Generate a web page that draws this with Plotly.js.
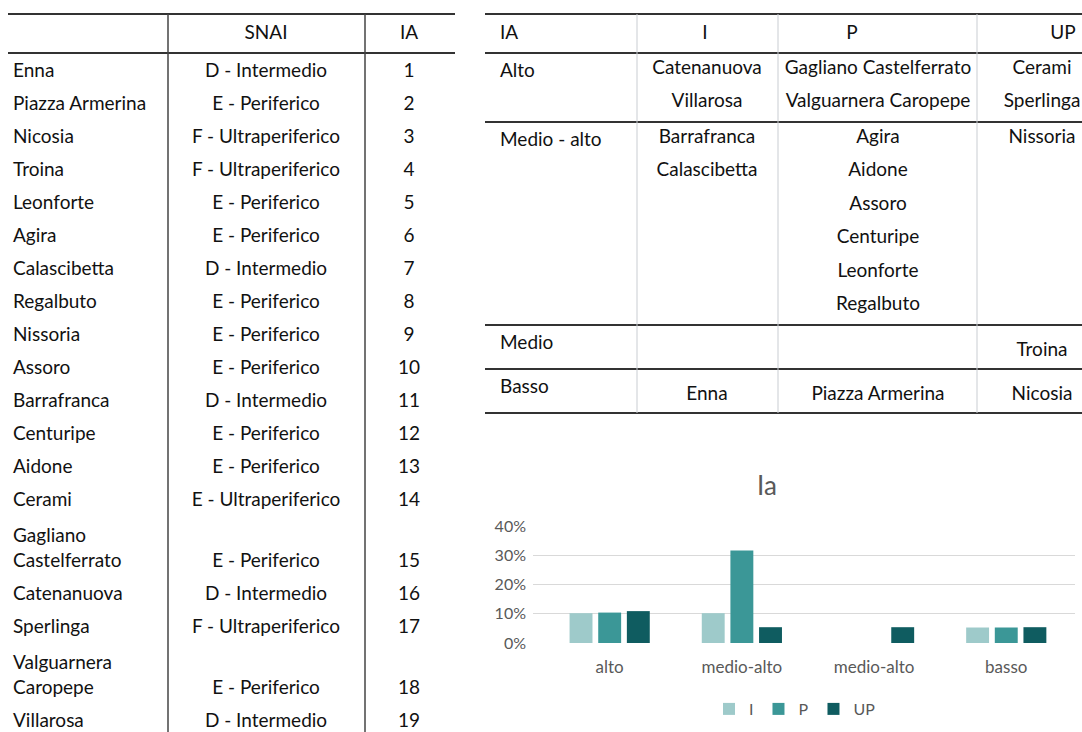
<!DOCTYPE html>
<html><head><meta charset="utf-8">
<script src="https://cdn.plot.ly/plotly-3.0.1.min.js"></script>
<style>html,body{margin:0;padding:0;background:#fff}#chart{width:1082px;height:732px}</style>
</head><body><div id="chart"></div>
<script>
// ---------- data: left table ----------
const leftHeader = ['', 'SNAI', 'IA'];
const names = ['Enna','Piazza Armerina','Nicosia','Troina','Leonforte','Agira','Calascibetta','Regalbuto','Nissoria','Assoro','Barrafranca','Centuripe','Aidone','Cerami','Gagliano Castelferrato','Catenanuova','Sperlinga','Valguarnera Caropepe','Villarosa'];
const snai = ['D - Intermedio','E - Periferico','F - Ultraperiferico','F - Ultraperiferico','E - Periferico','E - Periferico','D - Intermedio','E - Periferico','E - Periferico','E - Periferico','D - Intermedio','E - Periferico','E - Periferico','E - Ultraperiferico','E - Periferico','D - Intermedio','F - Ultraperiferico','E - Periferico','D - Intermedio'];
const iaRank = [1,2,3,4,5,6,7,8,9,10,11,12,13,14,15,16,17,18,19];

// ---------- data: right table ----------
const rightHeader = ['IA','I','P','UP'];
const groupLabels = ['Alto','Medio - alto','Medio','Basso'];
const groupI = [['Catenanuova','Villarosa'],['Barrafranca','Calascibetta'],[],['Enna']];
const groupP = [['Gagliano Castelferrato','Valguarnera Caropepe'],['Agira','Aidone','Assoro','Centuripe','Leonforte','Regalbuto'],[],['Piazza Armerina']];
const groupUP = [['Cerami','Sperlinga'],['Nissoria'],['Troina'],['Nicosia']];

// ---------- data: chart ----------
const chartTitle = 'Ia';
const chartCats = ['alto','medio-alto','medio-alto','basso'];
const seriesNames = ['I','P','UP'];
const valI  = [0.102, 0.102, 0, 0.053];
const valP  = [0.104, 0.316, 0, 0.053];
const valUP = [0.109, 0.054, 0.054, 0.054];
const yTicks = [0, 0.1, 0.2, 0.3, 0.4];

// ---------- build ----------
const W = 1082, H = 732;
const FONT = 'Lato, "Open Sans", sans-serif';
const TXT = '#111111';
const traces = [];
const shapes = [];

function textTrace(xs, ys, texts, pos, size, color) {
  traces.push({type:'scatter', mode:'text', x:xs, y:ys, text:texts, textposition:pos,
    textfont:{family:FONT, size:size||19, color:color||TXT},
    xaxis:'x2', yaxis:'y2', hoverinfo:'skip', showlegend:false, cliponaxis:false});
}
function hline(x0, x1, y, w, c) { shapes.push({type:'line', xref:'x2', yref:'y2', x0:x0, x1:x1, y0:y, y1:y, line:{color:c, width:w}}); }
function vline(x, y0, y1, w, c) { shapes.push({type:'line', xref:'x2', yref:'y2', x0:x, x1:x, y0:y0, y1:y1, line:{color:c, width:w}}); }

// left table
const L = {left:8, right:455, top:14, head:53, col1:168, col2:365, nameX:13, snaiX:266, iaX:409, headY:34, firstY:72, rowH:33, lineH:25, wrapAt:16};
hline(L.left, L.right, L.top, 2, '#333');
hline(L.left, L.right, L.head, 2, '#333');
vline(L.col1, L.top, H, 1.5, '#444');
vline(L.col2, L.top, H, 1.5, '#444');
textTrace([L.snaiX, L.iaX], [L.headY, L.headY], [leftHeader[1], leftHeader[2]], 'middle center');
(function(){
  let y = L.firstY;
  const nx=[], ny=[], nt=[], sx=[], sy=[], ix=[];
  names.forEach((n) => {
    const sp = n.indexOf(' ');
    const parts = n.length > L.wrapAt ? [n.slice(0, sp), n.slice(sp+1)] : [n];
    if (parts.length > 1) y += 3;
    parts.forEach((p, k) => { nx.push(L.nameX); ny.push(y + k*L.lineH); nt.push(p); });
    const last = y + (parts.length-1)*L.lineH;
    sy.push(last); sx.push(L.snaiX); ix.push(L.iaX);
    y = last + L.rowH;
  });
  textTrace(nx, ny, nt, 'middle right');
  textTrace(sx, sy, snai, 'middle center');
  textTrace(ix, sy, iaRank.map(String), 'middle center');
})();

// right table
const R = {left:485, right:W, top:14, head:53, cols:[637,778,977], labelX:500, colX:[707,878,1042], headX:[705,852,1063], headY:34, lineH:33.5, minH:44};
hline(R.left, R.right, R.top, 2, '#333');
hline(R.left, R.right, R.head, 2, '#333');
textTrace([R.labelX], [R.headY], [rightHeader[0]], 'middle right');
textTrace(R.headX, R.headX.map(()=>R.headY), rightHeader.slice(1), 'middle center');
(function(){
  let gy = R.head;
  const lx=[], ly=[], cx=[], cy=[], ct=[];
  groupLabels.forEach((g, i) => {
    const lists = [groupI[i], groupP[i], groupUP[i]];
    const n = Math.max(1, ...lists.map(l => l.length));
    const h = Math.max(n*R.lineH + 2, R.minH);
    lx.push(R.labelX); ly.push(gy + 19);
    lists.forEach((l, c) => l.forEach((t, k) => {
      cx.push(R.colX[c]); ct.push(t);
      cy.push(n > 1 ? gy + 16 + k*R.lineH : gy + h - 18);
    }));
    gy += h;
    hline(R.left, R.right, gy, 2, '#333');
  });
  R.cols.forEach(x => vline(x, R.top, gy, 1, '#c9cdd2'));
  textTrace(lx, ly, groupLabels, 'middle right');
  textTrace(cx, cy, ct, 'middle center');
})();

// bar chart
const xIdx = chartCats.map((_, i) => i);
const colors = ['#9ecaca', '#3b9797', '#0f5c60'];
[valI, valP, valUP].forEach((v, s) => {
  traces.push({type:'bar', name:seriesNames[s], x:xIdx, y:v, marker:{color:colors[s]}, hoverinfo:'skip', xaxis:'x', yaxis:'y'});
});

const layout = {
  width:W, height:H, margin:{l:0, r:0, t:0, b:0},
  paper_bgcolor:'#fff', plot_bgcolor:'rgba(0,0,0,0)',
  font:{family:FONT, color:'#595959'},
  barmode:'group', bargap:0.35, bargroupgap:0.2,
  title:{text:chartTitle, x:767/W, y:1-486/H, xanchor:'center', yanchor:'middle', font:{family:FONT, size:26, color:'#595959'}},
  xaxis:{domain:[533/W, 1075/W], anchor:'y', range:[-0.58, 3.52], tickvals:xIdx, ticktext:chartCats, showgrid:false, zeroline:false, showline:false, ticks:'', tickfont:{size:17, color:'#595959'}, ticklabelstandoff:12, fixedrange:true},
  yaxis:{domain:[(H-643)/H, (H-526)/H], anchor:'x', range:[0, 0.4], tickvals:yTicks, tickformat:'.0%', showgrid:true, gridcolor:'#d9d9d9', gridwidth:1, zeroline:false, showline:false, ticks:'', tickfont:{size:16, color:'#595959'}, ticklabelstandoff:6, fixedrange:true},
  xaxis2:{domain:[0,1], anchor:'y2', range:[0, W], visible:false, fixedrange:true},
  yaxis2:{domain:[0,1], anchor:'x2', range:[H, 0], visible:false, fixedrange:true},
  legend:{orientation:'h', x:795/W, y:1-709/H, xanchor:'center', yanchor:'middle', font:{size:16, color:'#595959'}, bgcolor:'rgba(0,0,0,0)', itemwidth:30},
  showlegend:true,
  shapes:shapes
};
Plotly.newPlot('chart', traces, layout, {staticPlot:true, displayModeBar:false});
</script>
</body></html>
